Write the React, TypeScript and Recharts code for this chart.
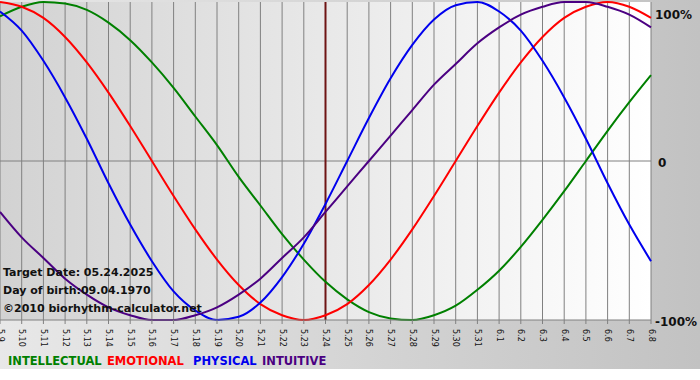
import React from 'react'
import { LineChart, Line, XAxis, YAxis, CartesianGrid, ReferenceLine } from 'recharts'

const days = [
  '5.9', '5.10', '5.11', '5.12', '5.13', '5.14', '5.15', '5.16', '5.17', '5.18', '5.19',
  '5.20', '5.21', '5.22', '5.23', '5.24', '5.25', '5.26', '5.27', '5.28', '5.29', '5.30',
  '5.31', '6.1', '6.2', '6.3', '6.4', '6.5', '6.6', '6.7', '6.8',
]

const physical = [
  94, 82, 63, 40, 14, -14, -40, -63, -82, -94, -100, -98, -89, -73, -52, -27,
  0, 27, 52, 73, 89, 98, 100, 94, 82, 63, 40, 14, -14, -40, -63,
]
const emotional = [
  100, 97, 90, 78, 62, 43, 22, 0, -22, -43, -62, -78, -90, -97, -100, -97,
  -90, -78, -62, -43, -22, 0, 22, 43, 62, 78, 90, 97, 100, 97, 90,
]
const intellectual = [
  91, 97, 100, 99, 95, 87, 76, 62, 46, 28, 10, -10, -28, -46, -62, -76,
  -87, -95, -99, -100, -97, -91, -81, -69, -54, -37, -19, 0, 19, 37, 54,
]
const intuitive = [
  -32, -48, -61, -74, -84, -92, -97, -100, -100, -97, -92, -84, -74, -61, -48, -32,
  -16, 0, 16, 32, 48, 61, 74, 84, 92, 97, 100, 100, 97, 92, 84,
]

const targetDay = '5.24'
const yTicks = [-100, 0, 100]

const series = [
  { key: 'intellectual', label: 'INTELLECTUAL', color: '#008000', left: 8 },
  { key: 'emotional', label: 'EMOTIONAL', color: '#ff0000', left: 107 },
  { key: 'physical', label: 'PHYSICAL', color: '#0000ee', left: 193 },
  { key: 'intuitive', label: 'INTUITIVE', color: '#4b0082', left: 262 },
]

const data = days.map((day, i) => ({
  day,
  physical: physical[i],
  emotional: emotional[i],
  intellectual: intellectual[i],
  intuitive: intuitive[i],
}))

const font = '"DejaVu Sans", Verdana, sans-serif'

function DayTick({ x, y, payload }: any) {
  return (
    <text
      x={x}
      y={y + 3}
      transform={`rotate(90 ${x} ${y + 3})`}
      fontSize={8}
      fontFamily={font}
      fill="#111"
      dominantBaseline="central"
      textAnchor="start"
    >
      {payload.value}
    </text>
  )
}

function PercentTick({ x, y, payload }: any) {
  const v = payload.value
  const dy = v === 100 ? 6 : 2
  return (
    <text
      x={v === 0 ? x - 1 : x - 4}
      y={y + dy}
      fontSize={12}
      fontWeight="bold"
      fontFamily={font}
      fill="#111"
      dominantBaseline="middle"
      textAnchor="start"
    >
      {v === 0 ? '0' : `${v}%`}
    </text>
  )
}

export default function App() {
  return (
    <div
      style={{
        position: 'absolute',
        left: 0,
        top: 0,
        width: 700,
        height: 380,
        background: '#fff',
        fontFamily: font,
      }}
    >
      <div
        style={{
          position: 'absolute',
          left: 0,
          top: 0,
          width: 700,
          height: 369,
          background: 'linear-gradient(to right, #e8e8e8, #c2c2c2)',
        }}
      />
      <LineChart
        width={700}
        height={380}
        data={data}
        margin={{ top: 2, right: 0, bottom: 0, left: 0 }}
        style={{ position: 'absolute', left: 0, top: 0 }}
      >
        <defs>
          <linearGradient id="plotBg" x1="0" y1="0" x2="1" y2="0">
            <stop offset="0%" stopColor="#d2d2d2" />
            <stop offset="100%" stopColor="#ffffff" />
          </linearGradient>
        </defs>
        <CartesianGrid
          horizontal={false}
          stroke="#808080"
          fill="url(#plotBg)"
          fillOpacity={1}
        />
        <XAxis
          dataKey="day"
          height={60}
          interval={0}
          tick={<DayTick />}
          tickSize={4}
          axisLine={{ stroke: '#808080' }}
          tickLine={{ stroke: '#808080' }}
        />
        <YAxis
          orientation="right"
          width={49}
          domain={[-100, 100]}
          ticks={yTicks}
          tick={<PercentTick />}
          axisLine={false}
          tickLine={false}
        />
        <ReferenceLine y={0} stroke="#808080" />
        <ReferenceLine x={targetDay} stroke="#6e1414" strokeWidth={2} />
        {series.map((s) => (
          <Line
            key={s.key}
            type="monotone"
            dataKey={s.key}
            stroke={s.color}
            strokeWidth={2}
            dot={false}
            isAnimationActive={false}
          />
        ))}
      </LineChart>
      <div
        style={{
          position: 'absolute',
          left: 3,
          top: 264,
          fontSize: 11,
          fontWeight: 'bold',
          lineHeight: '18px',
          color: '#111',
        }}
      >
        <div>Target Date: 05.24.2025</div>
        <div>Day of birth:09.04.1970</div>
        <div>©2010 biorhythm-calculator.net</div>
      </div>
      {series.map((s) => (
        <div
          key={s.key}
          style={{
            position: 'absolute',
            left: s.left,
            top: 354,
            fontSize: 11.5,
            fontWeight: 'bold',
            whiteSpace: 'pre',
            color: s.color,
          }}
        >
          {s.label}
        </div>
      ))}
    </div>
  )
}
